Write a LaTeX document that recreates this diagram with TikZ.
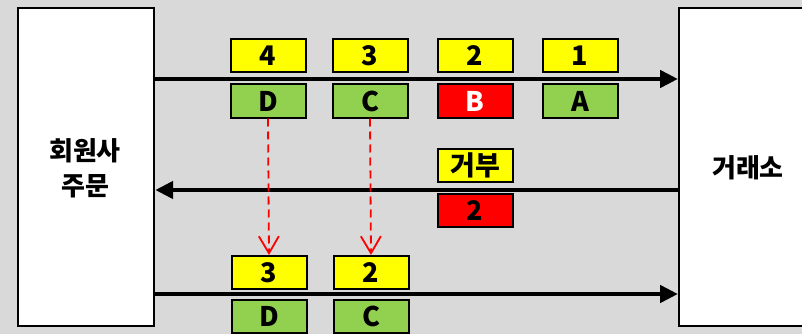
\documentclass[tikz,border=0pt]{standalone}
\usepackage{fontspec}
\setmainfont{Noto Sans CJK KR}
\usetikzlibrary{arrows.meta}
\definecolor{bggray}{HTML}{D9D9D9}
\definecolor{ylw}{HTML}{FFFF00}
\definecolor{grn}{HTML}{92D050}
\definecolor{rd}{HTML}{FF0000}
\tikzset{
  sidebox/.style={draw=black, line width=2.2pt, fill=white, anchor=north west, inner sep=0pt},
  tag/.style={draw=black, line width=2pt, minimum width=75pt, minimum height=33pt, inner sep=0pt, font=\fontsize{27}{27}\selectfont\bfseries},
  ytag/.style={tag, fill=ylw},
  gtag/.style={tag, fill=grn},
  rtag/.style={tag, fill=rd},
  bigarrow/.style={line width=4.8pt, -{Triangle[length=18pt,width=17pt]}},
  movearrow/.style={draw=rd, line width=1.8pt, dash pattern=on 8pt off 5pt, -{Straight Barb[length=17pt,width=20pt,line width=1.8pt]}},
  lbl/.style={font=\fontsize{26}{35}\selectfont\bfseries, align=center}
}
\begin{document}
\begin{tikzpicture}[x=1pt,y=-1pt]
\fill[bggray] (0,0) rectangle (802,334);
\useasboundingbox (0,0) rectangle (802,334);
% side boxes
\node[sidebox, minimum width=136pt, minimum height=318pt] (left) at (17,7) {};
\node[sidebox, minimum width=150pt, minimum height=318pt] (right) at (678,7) {};
\node[lbl] (lefttext) at (85,168) {회원사\\주문};
\node[lbl] (righttext) at (748,168) {거래소};
% top row
\node[ytag] (t4) at (268,56) {4};
\node[ytag] (t3) at (370,56) {3};
\node[ytag] (t2) at (475,56) {2};
\node[ytag] (t1) at (580,56) {1};
\node[gtag] (gD) at (268,101) {D};
\node[gtag] (gC) at (370,101) {C};
\node[rtag, text=white] (gB) at (475,101) {B};
\node[gtag] (gA) at (580,101) {A};
% middle
\node[ytag] (rej) at (475,165) {거부};
\node[rtag] (r2) at (475,210.5) {2};
% bottom row
\node[ytag] (b3) at (269,272.5) {3};
\node[ytag] (b2) at (371,272.5) {2};
\node[gtag] (bD) at (269,316.5) {D};
\node[gtag] (bC) at (371,316.5) {C};
% arrow rows
\coordinate (y1) at (0,79);
\coordinate (y2) at (0,190);
\coordinate (y3) at (0,294);
\draw[bigarrow] (left.east |- y1) -- (right.west |- y1);
\draw[bigarrow] (right.west |- y2) -- (left.east |- y2);
\draw[bigarrow] (left.east |- y3) -- (right.west |- y3);
% dashed moves
\draw[movearrow] (gD.south) -- (b3.north);
\draw[movearrow] (gC.south) -- (b2.north);
\end{tikzpicture}
\end{document}
